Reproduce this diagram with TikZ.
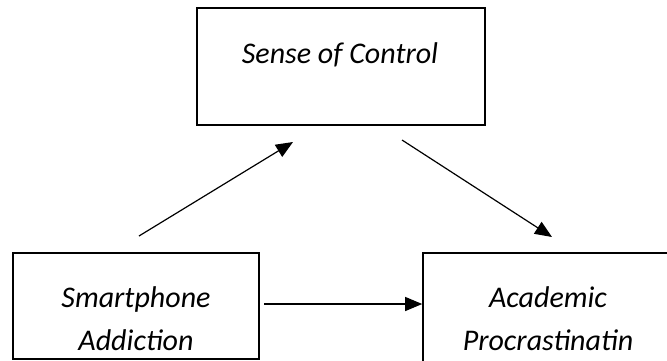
\documentclass[tikz,border=0pt]{standalone}
\usepackage{fontspec}
\setmainfont{Carlito}
\usetikzlibrary{arrows.meta, positioning}

\tikzset{
  box/.style = {draw, line width=1.6pt, inner sep=0pt},
  lbl/.style = {font=\fontsize{30}{43}\selectfont\itshape, align=center, inner sep=0pt, anchor=base},
  arr/.style = {line width=1.2pt, -{Triangle[length=17pt, width=14pt]}},
}

\begin{document}
\begin{tikzpicture}[x=1pt, y=-1pt]
    \clip (0,0) rectangle (667,360);
    % the three boxes
    \node[box, minimum width=288pt, minimum height=117pt] (sc) at (341,66.5) {};
    \node[box, minimum width=246pt, minimum height=106pt] (sa) at (136,306) {};
    \node[box, minimum width=250pt, minimum height=113pt] (ap) at (548,309.5) {};
    % base is the last line of each label
    \node[lbl] (sc text) at (340,63) {Sense of Control};
    \node[lbl] (sa text) at (136,350) {Smartphone\\Addiction};
    \node[lbl] (ap text) at (548,350) {Academic\\Procrastinatin};
    % free ends of the paths
    \coordinate (p1) at (139,236);
    \coordinate (p2) at (293,142);
    \coordinate (p3) at (402,140);
    \coordinate (p4) at (552,237);
    \coordinate (p5) at (264,304);
    \draw[arr] (p1) -- (p2);
    \draw[arr] (p3) -- (p4);
    \draw[arr] (p5) -- (p5 -| ap.west);
\end{tikzpicture}
\end{document}
